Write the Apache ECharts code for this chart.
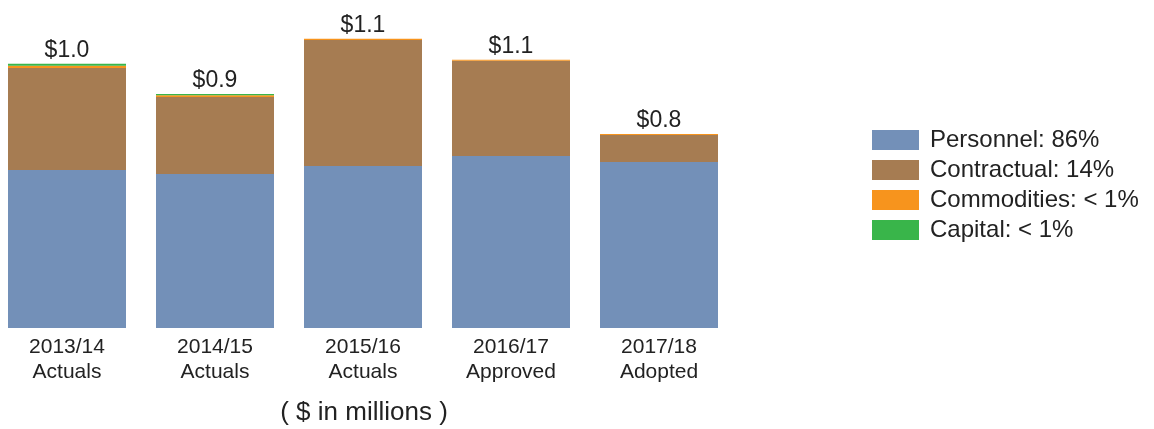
<!DOCTYPE html>
<html>
<head>
<meta charset="utf-8">
<script src="https://cdn.jsdelivr.net/npm/echarts@6/dist/echarts.min.js"></script>
<style>
  html, body { margin: 0; padding: 0; background: #fff; }
  #main { width: 1154px; height: 429px; }
</style>
</head>
<body>
<div id="main"></div>
<script>
// $ in millions
var categories = ['2013/14\nActuals', '2014/15\nActuals', '2015/16\nActuals', '2016/17\nApproved', '2017/18\nAdopted'];
var personnel = [0.620, 0.604, 0.635, 0.675, 0.651];
var contractual = [0.400, 0.302, 0.494, 0.373, 0.106];
var commodities = [0.008, 0.007, 0.005, 0.004, 0.004];
var capital = [0.008, 0.005, 0, 0, 0];
var legendNames = ['Personnel: 86%', 'Contractual: 14%', 'Commodities: < 1%', 'Capital: < 1%'];

var font = 'Liberation Sans, Arial, sans-serif';

function total(i) {
    return personnel[i] + contractual[i] + commodities[i] + capital[i];
}

var option = {
    animation: false,
    title: {
        text: '( $ in millions )',
        left: 364,
        top: 400,
        textAlign: 'center',
        padding: 0,
        textStyle: { fontFamily: font, fontSize: 26, fontWeight: 'normal', color: '#222' }
    },
    legend: {
        orient: 'vertical',
        left: 867,
        top: 123,
        itemWidth: 47,
        itemHeight: 20,
        itemGap: 6,
        icon: 'rect',
        textStyle: { fontFamily: font, fontSize: 24, color: '#222', padding: [0, 0, 0, 6] },
        data: legendNames
    },
    grid: {
        left: -7,
        right: 421,
        top: 22,
        bottom: 101,
        outerBoundsMode: 'none'
    },
    xAxis: {
        type: 'category',
        data: categories,
        axisLine: { show: false },
        axisTick: { show: false },
        axisLabel: {
            margin: 7,
            fontFamily: font,
            fontSize: 21,
            lineHeight: 25,
            color: '#222'
        }
    },
    yAxis: {
        type: 'value',
        min: 0,
        max: 1.2,
        show: false,
        splitLine: { show: false }
    },
    series: [
        {
            name: legendNames[0],
            type: 'bar',
            stack: 'total',
            barWidth: 118,
            itemStyle: { color: '#7390b8' },
            data: personnel
        },
        {
            name: legendNames[1],
            type: 'bar',
            stack: 'total',
            itemStyle: { color: '#a67c52' },
            data: contractual
        },
        {
            name: legendNames[2],
            type: 'bar',
            stack: 'total',
            itemStyle: { color: '#f7941d' },
            data: commodities
        },
        {
            name: legendNames[3],
            type: 'bar',
            stack: 'total',
            itemStyle: { color: '#39b54a' },
            label: {
                show: true,
                position: 'top',
                distance: 2,
                fontFamily: font,
                fontSize: 23,
                color: '#222',
                formatter: function (p) {
                    return '$' + total(p.dataIndex).toFixed(1);
                }
            },
            data: capital
        }
    ]
};

var myChart = echarts.init(document.getElementById('main'));
myChart.setOption(option);
</script>
</body>
</html>
